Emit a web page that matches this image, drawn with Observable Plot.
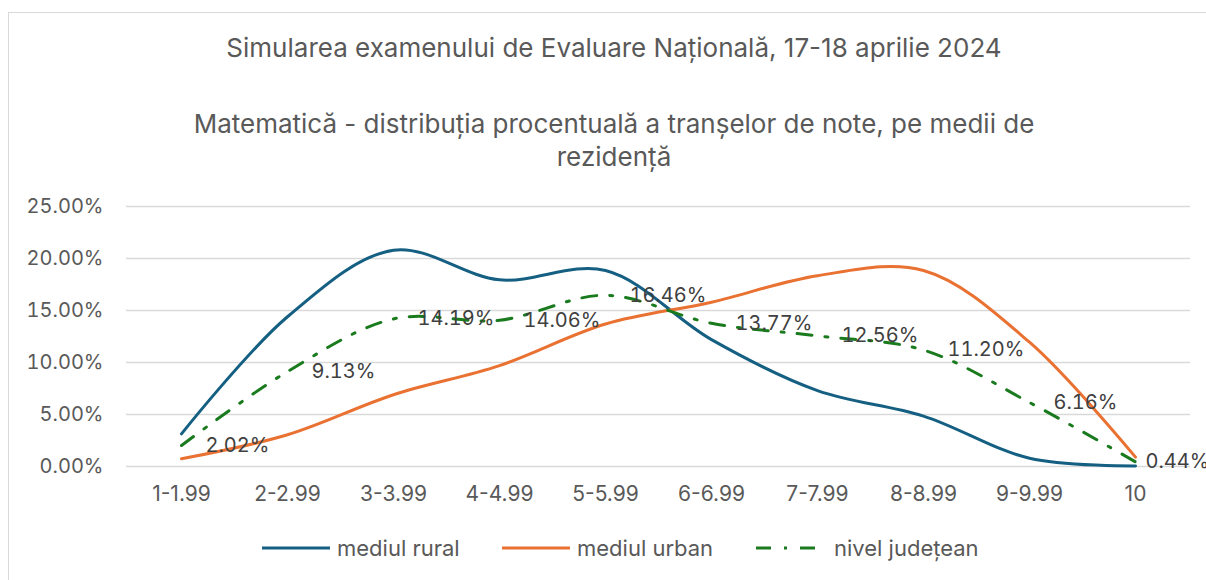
<!DOCTYPE html>
<html>
<head>
<meta charset="utf-8">
<script src="https://cdn.jsdelivr.net/npm/d3@7"></script>
<script src="https://cdn.jsdelivr.net/npm/@observablehq/plot@0.6"></script>
<style>
  html, body { margin: 0; padding: 0; background: #fff; }
  #wrap { position: relative; width: 1206px; height: 580px; overflow: hidden; background: #fff; font-family: Inter, "Open Sans", sans-serif; }
  #frame { position: absolute; left: 8px; top: 12px; width: 1300px; height: 700px; border: 1.5px solid #d9d9d9; box-sizing: border-box; }
  .title { position: absolute; left: 0; width: 1228px; text-align: center; color: #595959; font-size: 26px; line-height: 32px; white-space: nowrap; }
  #chart { position: absolute; left: 0; top: 190px; }
  #chart svg .tnum text, #chart svg text.tnum { font-variant-numeric: tabular-nums; }
  .leg { position: absolute; top: 536px; height: 24px; display: flex; align-items: center; color: #595959; font-size: 22px; }
  .leg svg { margin-right: 7px; }
</style>
</head>
<body>
<div id="wrap">
  <div id="frame"></div>
  <div class="title" style="top:32px">Simularea examenului de Evaluare Națională, 17-18 aprilie 2024</div>
  <div class="title" style="top:108px">Matematică - distribuția procentuală a tranșelor de note, pe medii de</div>
  <div class="title" style="top:141px">rezidență</div>
  <div id="chart"></div>
  <div id="legend"></div>
</div>
<script>
const categories = ["1-1.99","2-2.99","3-3.99","4-4.99","5-5.99","6-6.99","7-7.99","8-8.99","9-9.99","10"];
const rural  = [3.14, 14.4, 20.8, 17.95, 18.85, 12.2, 7.3, 4.85, 0.8, 0.05];
const urban  = [0.74, 3.05, 6.9, 9.7, 13.7, 15.8, 18.35, 18.85, 11.95, 0.9];
const judet  = [2.02, 9.13, 14.19, 14.06, 16.46, 13.77, 12.56, 11.20, 6.16, 0.44];
const yTicks = [0, 5, 10, 15, 20, 25];

const seriesNames = ["mediul rural", "mediul urban", "nivel județean"];
const colors = ["#156082", "#E97132", "#1A7A1E"];
const dash = "15,13,3,13";

const toRows = vals => categories.map((c, i) => ({cat: c, v: vals[i], i}));
const rRows = toRows(rural), uRows = toRows(urban), jRows = toRows(judet);
const fmt = d => d.toFixed(2) + "%";

const plot = Plot.plot({
  width: 1206,
  height: 330,
  marginTop: 16,
  marginBottom: 54,
  marginLeft: 126,
  marginRight: 16,
  style: {fontFamily: "Inter, 'Open Sans', sans-serif", background: "transparent", overflow: "visible"},
  x: {type: "point", domain: categories, padding: 0.5},
  y: {domain: [0, 25], ticks: yTicks},
  marks: [
    Plot.ruleY(yTicks, {stroke: "#d9d9d9", strokeWidth: 1.5}),
    Plot.axisY({ticks: yTicks, tickFormat: fmt, tickSize: 0, tickPadding: 23, fontSize: 20, color: "#595959", label: null, className: "tnum"}),
    Plot.axisX({tickSize: 0, tickPadding: 20, fontSize: 21, color: "#595959", label: null}),
    Plot.line(rRows, {x: "cat", y: "v", stroke: colors[0], strokeWidth: 3, curve: "catmull-rom"}),
    Plot.line(uRows, {x: "cat", y: "v", stroke: colors[1], strokeWidth: 3, curve: "catmull-rom"}),
    Plot.line(jRows, {x: "cat", y: "v", stroke: colors[2], strokeWidth: 3, curve: "catmull-rom", strokeDasharray: dash}),
    Plot.text(jRows.filter(d => d.i < 9), {x: "cat", y: "v", text: d => fmt(d.v), textAnchor: "start", dx: 24, fontSize: 20, fill: "#404040", className: "tnum"}),
    Plot.text(jRows.filter(d => d.i === 9), {x: "cat", y: "v", text: d => fmt(d.v), textAnchor: "start", dx: 10, fontSize: 20, fill: "#404040", className: "tnum"})
  ]
});
document.getElementById("chart").appendChild(plot);

// legend
const legendPos = [262, 502, 756];
const legend = document.getElementById("legend");
seriesNames.forEach((name, k) => {
  const item = document.createElement("div");
  item.className = "leg";
  item.style.left = legendPos[k] + "px";
  const w = k === 2 ? 59 : 68;
  const da = k === 2 ? ` stroke-dasharray="${dash}"` : "";
  item.innerHTML = `<svg width="${w + (k===2?12:0)}" height="10"><line x1="0" x2="${w}" y1="5" y2="5" stroke="${colors[k]}" stroke-width="3"${da}/></svg><span>${name}</span>`;
  legend.appendChild(item);
});
</script>
</body>
</html>
